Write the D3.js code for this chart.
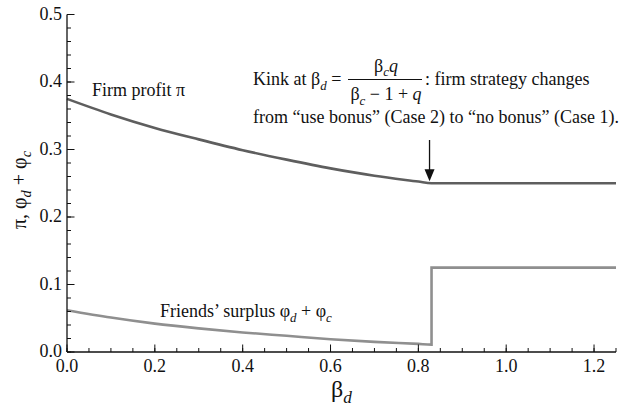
<!DOCTYPE html>
<html>
<head>
<meta charset="utf-8">
<script src="https://cdn.jsdelivr.net/npm/d3@7"></script>
<style>
  body { margin: 0; background: #fff; }
  svg text { font-family: 'Liberation Serif', 'Times New Roman', Times, 'DejaVu Serif', serif; fill: #111; }
  .line { fill: none; stroke-width: 2.6; stroke-linejoin: miter; }
</style>
</head>
<body>
<svg width="629" height="408" font-family="Liberation Serif, Times New Roman, serif"></svg>
<script>
// beta_d values
const betaCurve = [0, 0.1, 0.2, 0.3, 0.4, 0.5, 0.6, 0.7, 0.8, 0.83]
const profitCurve = [0.375, 0.352, 0.332, 0.315, 0.299, 0.285, 0.272, 0.261, 0.2525, 0.25]
const surplusCurve = [0.062, 0.051, 0.042, 0.035, 0.029, 0.024, 0.019, 0.015, 0.012, 0.011]
const kink = 0.83
const betaMax = 1.25
const profitFlat = 0.25
const surplusFlat = 0.125
const xTicks = [0, 0.2, 0.4, 0.6, 0.8, 1.0, 1.2]
const yTicks = [0, 0.1, 0.2, 0.3, 0.4, 0.5]

const svg = d3.select('svg')
const x = d3.scaleLinear().domain([0, betaMax]).range([67, 616])
const y = d3.scaleLinear().domain([0, 0.5]).range([352, 14.5])

const profitData = betaCurve.map((b, i) => [b, profitCurve[i]]).concat([[betaMax, profitFlat]])
const surplusData = betaCurve.map((b, i) => [b, surplusCurve[i]])
  .concat([[kink, surplusFlat], [betaMax, surplusFlat]])

const line = d3.line().x(d => x(d[0])).y(d => y(d[1])).curve(d3.curveMonotoneX)

svg.append('path').datum(surplusData)
  .attr('class', 'line').attr('stroke', '#8f8f8f')
  .attr('d', line)

svg.append('path').datum(profitData)
  .attr('class', 'line').attr('stroke', '#5e5e5e')
  .attr('d', line)

// axes, ticks pointing inward
const xMinor = d3.range(0, betaMax + 0.001, 0.05)
const yMinor = d3.range(0, 0.501, 0.02)

const xAxis = svg.append('g').attr('stroke', '#111')
xAxis.append('line').attr('x1', x(0)).attr('x2', x(betaMax)).attr('y1', y(0)).attr('y2', y(0)).attr('stroke-width', 1.3)
xAxis.selectAll('.minor').data(xMinor).enter().append('line')
  .attr('x1', d => x(d)).attr('x2', d => x(d))
  .attr('y1', y(0)).attr('y2', y(0) - 4)
xAxis.selectAll('.major').data(xTicks).enter().append('line')
  .attr('x1', d => x(d)).attr('x2', d => x(d))
  .attr('y1', y(0)).attr('y2', y(0) - 7.5)

svg.selectAll('.xlab').data(xTicks).enter().append('text')
  .attr('x', d => x(d)).attr('y', 372)
  .attr('text-anchor', 'middle').attr('font-size', 18)
  .text(d => d3.format('.1f')(d))

const yAxis = svg.append('g').attr('stroke', '#111')
yAxis.append('line').attr('x1', x(0)).attr('x2', x(0)).attr('y1', y(0)).attr('y2', y(0.5)).attr('stroke-width', 1.3)
yAxis.selectAll('.minor').data(yMinor).enter().append('line')
  .attr('x1', x(0)).attr('x2', x(0) + 4)
  .attr('y1', d => y(d)).attr('y2', d => y(d))
yAxis.selectAll('.major').data(yTicks).enter().append('line')
  .attr('x1', x(0)).attr('x2', x(0) + 7.5)
  .attr('y1', d => y(d)).attr('y2', d => y(d))

svg.selectAll('.ylab').data(yTicks).enter().append('text')
  .attr('x', 62).attr('y', d => y(d) + 5)
  .attr('text-anchor', 'end').attr('font-size', 18)
  .text(d => d3.format('.1f')(d))

// helper: text with italic subscripts, parts = [[text, sub?, italic?], ...]
function rich(sel, parts, size) {
  let shifted = false
  parts.forEach(([t, sub, it]) => {
    const ts = sel.append('tspan').text(t)
    if (sub) {
      ts.attr('font-size', size * 0.72).attr('font-style', 'italic').attr('dy', shifted ? 0 : size * 0.25)
      shifted = true
    } else {
      if (it) ts.attr('font-style', 'italic')
      if (shifted) { ts.attr('dy', -size * 0.25); shifted = false }
    }
  })
  return sel
}

// axis titles
rich(svg.append('text').attr('x', x(0.625)).attr('y', 397)
  .attr('text-anchor', 'middle').attr('font-size', 24), [['β'], ['d', true]], 24)

rich(svg.append('text').attr('transform', 'translate(26,190) rotate(-90)')
  .attr('text-anchor', 'middle').attr('font-size', 20),
  [['π, φ'], ['d', true], [' + φ'], ['c', true]], 20)

// curve labels
svg.append('text').attr('x', 92).attr('y', 96).attr('font-size', 18).text('Firm profit π')

rich(svg.append('text').attr('x', 160).attr('y', 317).attr('font-size', 18),
  [['Friends’ surplus φ'], ['d', true], [' + φ'], ['c', true]], 18)

// kink annotation
rich(svg.append('text').attr('x', 253).attr('y', 85).attr('font-size', 18),
  [['Kink at β'], ['d', true], [' =']], 18)

rich(svg.append('text').attr('x', 386).attr('y', 71.5).attr('font-size', 18).attr('text-anchor', 'middle'),
  [['β'], ['c', true], ['q', false, true]], 18)

svg.append('line').attr('x1', 348).attr('x2', 422).attr('y1', 79.5).attr('y2', 79.5)
  .attr('stroke', '#111').attr('stroke-width', 1)

rich(svg.append('text').attr('x', 386).attr('y', 100).attr('font-size', 18).attr('text-anchor', 'middle'),
  [['β'], ['c', true], [' − 1 + '], ['q', false, true]], 18)

svg.append('text').attr('x', 425).attr('y', 85).attr('font-size', 18).text(': firm strategy changes')
svg.append('text').attr('x', 253).attr('y', 122.5).attr('font-size', 18)
  .text('from “use bonus” (Case 2) to “no bonus” (Case 1).')

// arrow to kink
const ax = x(kink) - 2
const ay = y(profitFlat)
svg.append('line').attr('x1', ax).attr('x2', ax).attr('y1', 140).attr('y2', ay - 10)
  .attr('stroke', '#111').attr('stroke-width', 1.3)
svg.append('path')
  .attr('d', `M${ax - 5},${ay - 14} L${ax + 5},${ay - 14} L${ax},${ay - 2} Z`)
  .attr('fill', '#111')
</script>
</body>
</html>
